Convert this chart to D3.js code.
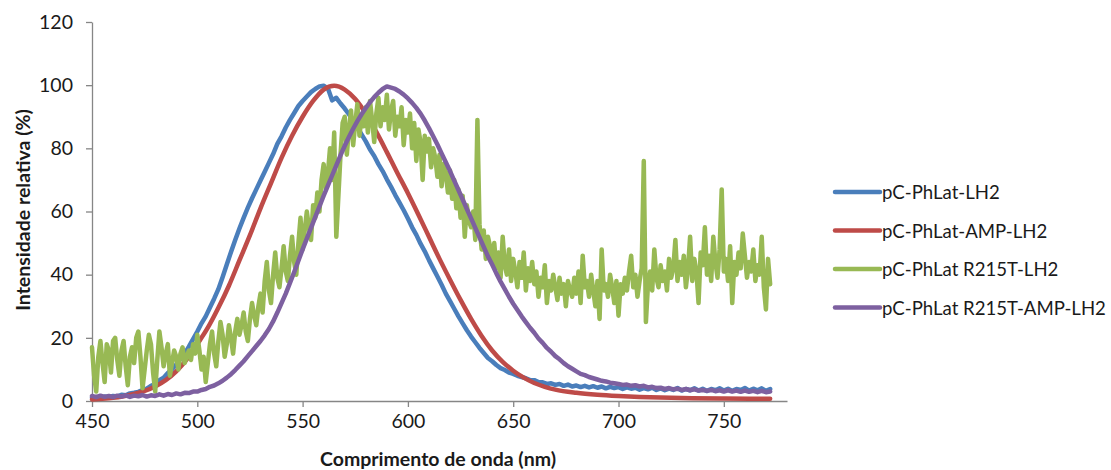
<!DOCTYPE html>
<html>
<head>
<meta charset="utf-8">
<script src="https://cdn.jsdelivr.net/npm/d3@7"></script>
<style>
  html, body { margin: 0; padding: 0; background: #fff; }
  svg { display: block; }
  text { font-family: Lato, "Open Sans", sans-serif; fill: #1a1a1a; }
</style>
</head>
<body>
<svg id="chart" width="1111" height="470"></svg>
<script>
// Emission spectra, relative intensity (%) vs wavelength (nm)
const seriesNames = ["pC-PhLat-LH2", "pC-PhLat-AMP-LH2", "pC-PhLat R215T-LH2", "pC-PhLat R215T-AMP-LH2"];
const seriesColors = ["#4A7EBB", "#BE4B48", "#98B954", "#7D60A0"];
const xTicks = [450, 500, 550, 600, 650, 700, 750];
const yTicks = [0, 20, 40, 60, 80, 100, 120];

// pC-PhLat-LH2, sampled every 2 nm from 450 nm
const blueStart = 450, blueStep = 2;
const blueValues = [
  1.0, 1.3, 0.9, 1.4, 1.2, 1.6, 1.4, 2.0, 1.8, 2.4,
  2.6, 2.9, 3.5, 3.9, 4.8, 5.4, 6.6, 7.4, 8.9, 10.0,
  11.6, 13.4, 15.0, 17.2, 19.6, 22.0, 24.6, 26.8, 29.6, 32.4,
  35.4, 39.2, 43.2, 47.2, 51.0, 54.6, 58.0, 61.2, 64.2, 67.0,
  69.8, 72.6, 75.4, 78.2, 81.4, 83.8, 86.6, 89.0, 91.2, 93.4,
  95.0, 96.4, 97.8, 98.8, 99.6, 99.8, 99.0, 95.2, 96.0, 94.2,
  92.6, 90.8, 88.8, 86.6, 84.4, 82.2, 79.6, 77.6, 75.0, 72.8,
  70.2, 67.8, 65.2, 62.8, 60.4, 57.8, 55.0, 52.6, 49.8, 47.4,
  44.6, 42.0, 39.4, 36.8, 34.0, 31.6, 29.2, 26.8, 24.6, 22.4,
  20.4, 18.6, 16.8, 15.2, 13.6, 12.6, 11.4, 10.4, 9.8, 9.0,
  8.6, 8.0, 7.6, 7.2, 6.6, 6.6, 6.0, 5.9, 5.4, 5.6,
  5.1, 5.4, 4.8, 5.2, 4.6, 4.9, 4.4, 4.8, 4.3, 4.7,
  4.2, 4.6, 4.0, 4.5, 4.1, 4.4, 3.8, 4.3, 3.9, 4.2,
  3.6, 4.1, 3.7, 4.2, 3.5, 4.0, 3.4, 3.9, 3.5, 4.1,
  3.3, 3.8, 3.4, 4.0, 3.3, 3.9, 3.2, 3.8, 3.4, 4.0,
  3.3, 3.9, 3.2, 3.8, 3.5, 4.1, 3.3, 3.9, 3.4, 4.0,
  3.2, 3.8
];

// pC-PhLat-AMP-LH2 (smooth curve)
const redWavelengths = [450, 455, 460, 465, 470, 475, 480, 485, 490, 495,
  500, 505, 510, 515, 520, 525, 530, 535, 540, 545,
  550, 555, 560, 565, 570, 575, 580, 585, 590, 595,
  600, 605, 610, 615, 620, 625, 630, 635, 640, 645,
  650, 655, 660, 665, 670, 680, 690, 700, 710, 720,
  735, 750, 772];
const redValues = [0.5, 0.7, 1.0, 1.5, 2.2, 3.2, 4.6, 6.6, 9.4, 13.2,
  18.0, 23.2, 29.5, 36.5, 44.5, 52.5, 61.0, 69.0, 77.0, 84.0,
  90.0, 95.0, 98.6, 99.8, 98.6, 95.6, 91.0, 85.2, 78.8, 72.2,
  65.8, 59.0, 52.0, 45.0, 38.4, 32.0, 26.0, 20.6, 16.0, 12.4,
  9.6, 7.4, 5.7, 4.5, 3.6, 2.6, 2.0, 1.6, 1.3, 1.1,
  0.9, 0.8, 0.7];

// pC-PhLat R215T-LH2, sampled every 1 nm from 450 nm
const greenStart = 450, greenStep = 1;
const greenValues = [
  17, 8, 3, 14, 19, 12, 6, 18, 16, 9,
  19, 20, 13, 8, 16, 19, 11, 5, 14, 17,
  12, 20, 22, 14, 4, 10, 16, 21, 18, 9,
  3, 13, 22, 17, 11, 15, 18, 8, 12, 16,
  14, 10, 15, 17, 12, 14, 16, 13, 18, 15,
  21, 16, 10, 14, 6, 12, 18, 22, 15, 11,
  19, 25, 21, 14, 18, 24, 20, 15, 22, 26,
  21, 24, 28, 22, 19, 26, 31, 27, 24, 30,
  34, 28, 38, 44, 35, 31, 40, 47, 39, 36,
  42, 49, 41, 38, 46, 52, 44, 40, 50, 58,
  48, 54, 60, 55, 51, 62, 58, 66, 60, 70,
  75, 67, 72, 80, 70, 85, 52, 65, 78, 88,
  90, 78, 86, 92, 81, 88, 94, 84, 90, 87,
  93, 85, 95, 89, 82, 91, 96, 87, 93, 89,
  97, 86, 92, 95, 84, 90, 87, 93, 81, 89,
  85, 91, 80, 88, 76, 86, 82, 70, 84, 79,
  83, 74, 80, 77, 71, 78, 68, 75, 72, 66,
  73, 64, 70, 61, 67, 58, 65, 52, 62, 57,
  55, 60, 51, 89, 56, 48, 54, 45, 52, 49,
  44, 50, 42, 47, 39, 52, 43, 40, 48, 38,
  45, 41, 36, 44, 39, 47, 35, 42, 38, 44,
  37, 41, 33, 39, 36, 43, 31, 38, 35, 40,
  36, 32, 39, 34, 37, 30, 38, 35, 33, 39,
  34, 41, 31, 46, 36, 38, 33, 40, 35, 30,
  38, 26, 48, 35, 37, 33, 40, 36, 31, 38,
  27, 37, 34, 39, 35, 41, 46, 36, 40, 33,
  38, 42, 76, 25, 37, 41, 35, 48, 39, 36,
  43, 38, 41, 35, 45, 39, 42, 51, 38, 44,
  40, 46, 36, 42, 52, 38, 45, 41, 31, 47,
  43, 55, 40, 46, 38, 52, 44, 39, 48, 67,
  41, 45, 38, 49, 31, 44, 40, 47, 42, 53,
  46, 39, 44, 41, 48, 38, 43, 40, 52, 36,
  29, 45, 37
];

// pC-PhLat R215T-AMP-LH2, sampled every 2 nm from 450 nm
const purpleStart = 450, purpleStep = 2;
const purpleValues = [
  1.6, 1.2, 1.7, 1.3, 1.6, 1.2, 1.7, 1.4, 1.8, 1.3,
  1.7, 1.5, 1.9, 1.4, 1.8, 1.6, 2.1, 1.7, 2.2, 1.9,
  2.4, 2.1, 2.6, 2.5, 3.0, 3.0, 3.5, 3.8, 4.5, 4.9,
  5.6, 6.4, 7.4, 8.5, 9.8, 11.2, 12.6, 14.2, 15.8, 17.4,
  19.0, 20.8, 22.8, 25.2, 28.0, 31.0, 34.0, 37.4, 40.8, 44.4,
  48.0, 51.4, 54.8, 58.2, 61.6, 65.0, 68.2, 71.4, 74.6, 77.8,
  80.8, 83.6, 86.2, 88.6, 90.8, 92.8, 94.6, 96.2, 97.6, 98.8,
  99.6, 99.2, 98.8, 98.0, 97.0, 95.8, 94.4, 92.8, 91.0, 88.8,
  86.4, 83.8, 81.2, 78.4, 75.6, 72.8, 69.8, 66.8, 63.8, 60.8,
  57.8, 54.8, 51.8, 48.8, 45.8, 43.2, 40.4, 37.8, 35.4, 33.0,
  30.8, 28.8, 26.8, 25.0, 23.2, 21.6, 19.8, 18.4, 16.8, 15.6,
  14.2, 13.2, 12.0, 11.0, 10.2, 9.4, 8.6, 8.2, 7.6, 7.2,
  6.8, 6.4, 6.2, 5.8, 5.6, 5.4, 5.1, 5.2, 4.8, 5.0,
  4.6, 4.8, 4.3, 4.5, 4.1, 4.2, 3.8, 4.1, 3.7, 3.9,
  3.5, 3.8, 3.4, 3.7, 3.3, 3.5, 3.2, 3.5, 3.1, 3.4,
  3.0, 3.4, 3.0, 3.3, 2.9, 3.3, 2.9, 3.2, 2.8, 3.2,
  2.8, 3.0
];

function toPoints(start, step, values) {
  return values.map((v, i) => [start + i * step, v]);
}

const series = [
  { pts: toPoints(blueStart, blueStep, blueValues), curve: d3.curveLinear },
  { pts: redWavelengths.map((w, i) => [w, redValues[i]]), curve: d3.curveMonotoneX },
  { pts: toPoints(greenStart, greenStep, greenValues), curve: d3.curveLinear },
  { pts: toPoints(purpleStart, purpleStep, purpleValues), curve: d3.curveLinear }
];

const svg = d3.select("#chart");
const axisColor = "#868686";

const x = d3.scaleLinear().domain([450, 780]).range([92, 787]);
const y = d3.scaleLinear().domain([0, 120]).range([401, 22]);

// Y axis
const yAxis = svg.append("g")
  .attr("transform", `translate(${x(450)},0)`)
  .call(d3.axisLeft(y).tickValues(yTicks).tickSize(6).tickSizeOuter(0).tickPadding(13));
yAxis.select(".domain").attr("stroke", axisColor).attr("stroke-width", 1.3);
yAxis.selectAll(".tick line").attr("stroke", axisColor).attr("stroke-width", 1.3);
yAxis.selectAll(".tick text")
  .attr("font-size", 19.5).attr("font-family", "Lato, sans-serif").attr("fill", "#1a1a1a");

// X axis
const xAxis = svg.append("g")
  .attr("transform", `translate(0,${y(0)})`)
  .call(d3.axisBottom(x).tickValues(xTicks).tickSize(6).tickSizeOuter(0));
xAxis.select(".domain").attr("stroke", axisColor).attr("stroke-width", 1.3);
xAxis.selectAll(".tick line").attr("stroke", axisColor).attr("stroke-width", 1.3);
xAxis.selectAll(".tick text")
  .attr("font-size", 19.5).attr("font-family", "Lato, sans-serif").attr("fill", "#1a1a1a")
  .attr("dy", null).attr("y", 27);

// Spectra
const line = d3.line().x(d => x(d[0])).y(d => y(d[1]));
series.forEach((s, i) => {
  svg.append("path")
    .datum(s.pts)
    .attr("fill", "none")
    .attr("stroke", seriesColors[i])
    .attr("stroke-width", 4.5)
    .attr("stroke-linejoin", "round")
    .attr("stroke-linecap", "round")
    .attr("d", line.curve(s.curve));
});

// Axis titles
svg.append("text")
  .attr("x", 438).attr("y", 466)
  .attr("text-anchor", "middle")
  .attr("font-size", 19.5).attr("font-weight", "bold")
  .text("Comprimento de onda (nm)");

svg.append("text")
  .attr("transform", "rotate(-90)")
  .attr("x", -210).attr("y", 30)
  .attr("text-anchor", "middle")
  .attr("font-size", 19.5).attr("font-weight", "bold")
  .text("Intensidade relativa (%)");

// Legend
const legend = svg.append("g");
seriesNames.forEach((name, i) => {
  const cy = 192 + i * 38.5;
  legend.append("line")
    .attr("x1", 835).attr("x2", 880).attr("y1", cy).attr("y2", cy)
    .attr("stroke", seriesColors[i]).attr("stroke-width", 4.5)
    .attr("stroke-linecap", "round");
  legend.append("text")
    .attr("x", 882).attr("y", cy)
    .attr("dominant-baseline", "central")
    .attr("font-size", 18.6)
    .text(name);
});
</script>
</body>
</html>
